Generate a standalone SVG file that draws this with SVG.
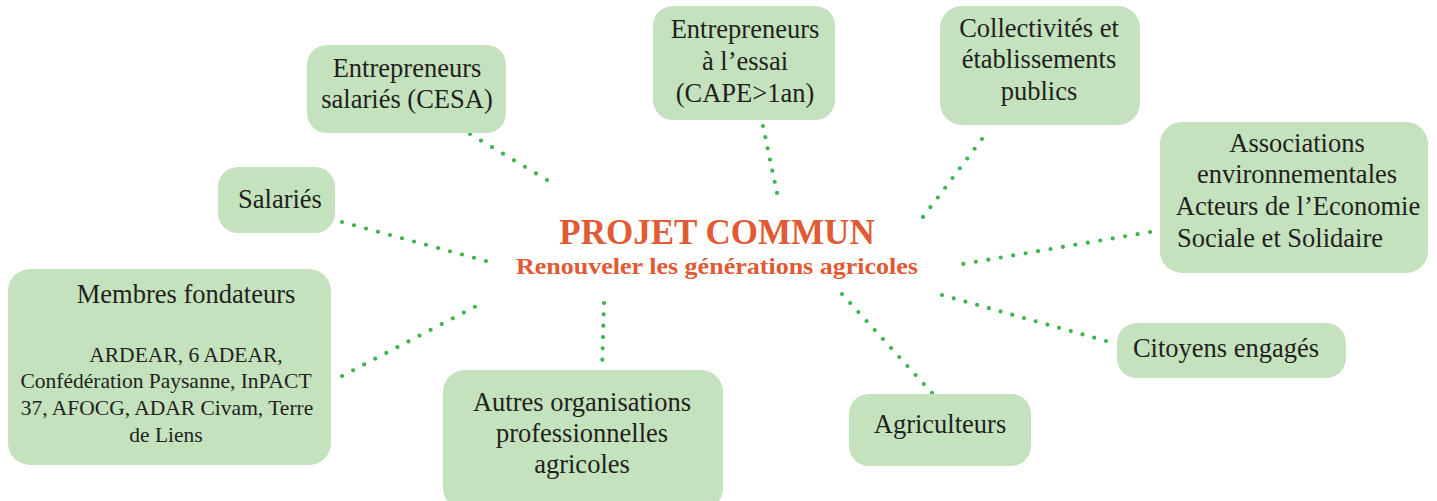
<svg xmlns="http://www.w3.org/2000/svg" width="1437" height="501" viewBox="0 0 1437 501">
<style>
.box{fill:#c4e2bd}
.t{font-family:"Liberation Serif",serif;font-size:26.5px;fill:#231f20;text-anchor:middle}
.s{font-family:"Liberation Serif",serif;font-size:21.5px;fill:#231f20;text-anchor:middle}
.c{stroke:#3cb54a;stroke-width:4.2;stroke-linecap:round;fill:none}
.h{font-family:"Liberation Serif",serif;font-weight:bold;fill:#e05a33;text-anchor:middle}
</style>
<rect width="1437" height="501" fill="#ffffff"/>
<g id="connectors">
<line class="c" stroke-dasharray="0 12.81" x1="470" y1="134" x2="547" y2="180"/>
<line class="c" stroke-dasharray="0 11.4" x1="763" y1="126" x2="777" y2="193"/>
<line class="c" stroke-dasharray="0 12.22" x1="982" y1="139" x2="923" y2="217"/>
<line class="c" stroke-dasharray="0 12.62" x1="1150" y1="232" x2="951" y2="266"/>
<line class="c" stroke-dasharray="0 12.43" x1="342" y1="222" x2="486" y2="261"/>
<line class="c" stroke-dasharray="0 12.49" x1="342" y1="376" x2="486" y2="301"/>
<line class="c" stroke-dasharray="0 11.34" x1="604" y1="303" x2="602" y2="371"/>
<line class="c" stroke-dasharray="0 12.16" x1="842" y1="294" x2="932" y2="393"/>
<line class="c" stroke-dasharray="0 12.16" x1="942" y1="295" x2="1106" y2="341"/>
</g>
<g id="center">
<text class="h" x="717" y="244" font-size="35">PROJET COMMUN</text>
<text class="h" x="717" y="274" font-size="23.5" textLength="402" lengthAdjust="spacingAndGlyphs">Renouveler les générations agricoles</text>
</g>
<g id="cesa">
<rect class="box" x="307" y="45" width="199" height="88" rx="20"/>
<text class="t" x="407" y="77">Entrepreneurs</text>
<text class="t" x="407" y="108">salariés (CESA)</text>
</g>
<g id="essai">
<rect class="box" x="653" y="6" width="182" height="114" rx="20"/>
<text class="t" x="745" y="38">Entrepreneurs</text>
<text class="t" x="745" y="70">à l’essai</text>
<text class="t" x="745" y="102">(CAPE&gt;1an)</text>
</g>
<g id="collectivites">
<rect class="box" x="940" y="6" width="200" height="119" rx="22"/>
<text class="t" x="1039" y="37">Collectivités et</text>
<text class="t" x="1039" y="68">établissements</text>
<text class="t" x="1039" y="100">publics</text>
</g>
<g id="associations">
<rect class="box" x="1160" y="122" width="268" height="151" rx="22"/>
<text class="t" x="1297" y="152">Associations</text>
<text class="t" x="1297" y="183">environnementales</text>
<text class="t" x="1298" y="215">Acteurs de l’Economie</text>
<text class="t" x="1177" y="247" style="text-anchor:start">Sociale et Solidaire</text>
</g>
<g id="salaries">
<rect class="box" x="218" y="167" width="117" height="66" rx="20"/>
<text class="t" x="280" y="208">Salariés</text>
</g>
<g id="membres">
<rect class="box" x="8" y="269" width="323" height="196" rx="22"/>
<text class="t" x="186" y="303">Membres fondateurs</text>
<text class="s" x="186" y="362">ARDEAR, 6 ADEAR,</text>
<text class="s" x="166" y="388">Confédération Paysanne, InPACT</text>
<text class="s" x="167" y="415">37, AFOCG, ADAR Civam, Terre</text>
<text class="s" x="166" y="442">de Liens</text>
</g>
<g id="autres">
<rect class="box" x="443" y="370" width="280" height="140" rx="22"/>
<text class="t" x="582" y="411">Autres organisations</text>
<text class="t" x="582" y="442">professionnelles</text>
<text class="t" x="582" y="473">agricoles</text>
</g>
<g id="agriculteurs">
<rect class="box" x="849" y="394" width="182" height="72" rx="20"/>
<text class="t" x="940" y="433">Agriculteurs</text>
</g>
<g id="citoyens">
<rect class="box" x="1117" y="323" width="229" height="55" rx="20"/>
<text class="t" x="1226" y="357">Citoyens engagés</text>
</g>
</svg>
